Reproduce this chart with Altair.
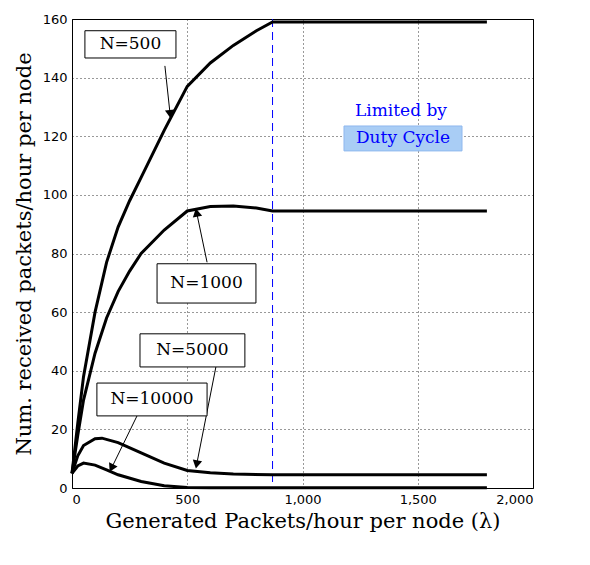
import math
import altair as alt
import pandas as pd

# curves
x500 = [0, 25, 50, 100, 150, 200, 250, 300, 400, 500, 600, 700, 800, 870, 1000, 1800]
y500 = [5, 22, 38, 60, 77, 89, 98, 106, 122, 137, 145, 151, 156, 159, 159, 159]
x1000 = [0, 25, 50, 100, 150, 200, 250, 300, 400, 500, 600, 700, 800, 870, 1000, 1800]
y1000 = [5, 18, 30, 46, 58, 67, 74, 80, 88, 94.5, 96, 96.2, 95.5, 94.5, 94.5, 94.5]
x5000 = [0, 25, 50, 100, 130, 200, 300, 400, 500, 600, 700, 870, 1000, 1800]
y5000 = [5, 11, 14.5, 16.8, 17, 15.5, 12, 8.5, 6, 5.2, 4.8, 4.5, 4.5, 4.5]
x10000 = [0, 25, 50, 100, 150, 200, 300, 400, 500, 600, 1000, 1800]
y10000 = [5, 7.5, 8.5, 7.8, 6.2, 4.5, 2.2, 0.8, 0.2, 0.1, 0.1, 0.1]

labels = ["N=500", "N=1000", "N=5000", "N=10000"]
box_x = [56, 369, 295, 108]
box_x2 = [451, 798, 750, 586]
box_y = [156, 76.5, 52.6, 35.8]
box_y2 = [146.7, 63.1, 41.3, 24.6]
arr_x = [403, 586, 625, 282]
arr_y = [144, 77, 41.6, 24.6]
arr_x2 = [425, 542, 542, 174]
arr_y2 = [128, 93.5, 8.5, 7.2]

W, H = 461, 469
SERIF = "DejaVu Serif"

rows = []
for name, xs, ys in [("500", x500, y500), ("1000", x1000, y1000),
                     ("5000", x5000, y5000), ("10000", x10000, y10000)]:
    for a, b in zip(xs, ys):
        rows.append({"s": name, "x": a, "y": b})
curves = pd.DataFrame(rows)

boxes = pd.DataFrame({"label": labels, "x": box_x, "x2": box_x2, "y": box_y, "y2": box_y2})
boxes["cx"] = (boxes.x + boxes.x2) / 2
boxes["cy"] = (boxes.y + boxes.y2) / 2

arrows = pd.DataFrame({"x": arr_x, "y": arr_y, "x2": arr_x2, "y2": arr_y2})
sx, sy = W / 2000, H / 160
arrows["ang"] = [
    math.degrees(math.atan2((b - a) * sx, (d - c) * sy)) % 360
    for a, b, c, d in zip(arrows.x, arrows.x2, arrows.y, arrows.y2)
]

xs = alt.Scale(domain=[0, 2000], nice=False)
ys = alt.Scale(domain=[0, 160], nice=False)

axis_common = dict(grid=True, gridDash=[1, 3], gridColor="black", gridOpacity=0.8,
                   ticks=False, domain=False, labelFont="DejaVu Sans",
                   labelFontSize=13, labelColor="black", titleFont=SERIF,
                   titleFontSize=21, titleFontWeight="normal", titleColor="black",
                   labelPadding=5)

base = alt.Chart(curves).encode(
    x=alt.X("x:Q", scale=xs, axis=alt.Axis(values=[0, 500, 1000, 1500, 2000],
            title="Generated Packets/hour per node (λ)", **axis_common)),
    y=alt.Y("y:Q", scale=ys, axis=alt.Axis(values=list(range(0, 161, 20)),
            title="Num. received packets/hour per node", titlePadding=8, **axis_common)),
)
lines = base.mark_line(color="black", strokeWidth=3).encode(detail="s:N")

vline = alt.Chart(pd.DataFrame({"x": [870]})).mark_rule(
    color="blue", strokeDash=[8, 5], strokeWidth=1).encode(
    x=alt.X("x:Q", scale=xs), y=alt.value(0), y2=alt.value(H))

rects = alt.Chart(boxes).mark_rect(fill="white", stroke="black", strokeWidth=1).encode(
    x=alt.X("x:Q", scale=xs), x2="x2", y=alt.Y("y:Q", scale=ys), y2="y2")
texts = alt.Chart(boxes).mark_text(font=SERIF, fontSize=17, color="black").encode(
    x=alt.X("cx:Q", scale=xs), y=alt.Y("cy:Q", scale=ys), text="label:N")

shafts = alt.Chart(arrows).mark_rule(color="black", strokeWidth=1).encode(
    x=alt.X("x:Q", scale=xs), y=alt.Y("y:Q", scale=ys), x2="x2", y2="y2")
heads = alt.Chart(arrows).mark_point(shape="triangle", filled=True, color="black",
                                     size=90, opacity=1).encode(
    x=alt.X("x2:Q", scale=xs), y=alt.Y("y2:Q", scale=ys), angle=alt.Angle("ang:Q", scale=None))

hl = alt.Chart(pd.DataFrame({"x": [1180], "x2": [1692], "y": [123.5], "y2": [115]})).mark_rect(
    fill="#a9cdf5", stroke="#8fb8ee").encode(
    x=alt.X("x:Q", scale=xs), x2="x2", y=alt.Y("y:Q", scale=ys), y2="y2")
duty = alt.Chart(pd.DataFrame({"x": [1427, 1436], "y": [128.7, 119.5],
                               "t": ["Limited by", "Duty Cycle"]})).mark_text(
    font=SERIF, fontSize=17, color="blue").encode(
    x=alt.X("x:Q", scale=xs), y=alt.Y("y:Q", scale=ys), text="t:N")

chart = alt.layer(vline, lines, shafts, heads, rects, texts, hl, duty).properties(
    width=W, height=H, background="white"
).configure_view(stroke="black", strokeWidth=1)

chart.save("out.html", embed_options={"renderer": "svg", "actions": False})
